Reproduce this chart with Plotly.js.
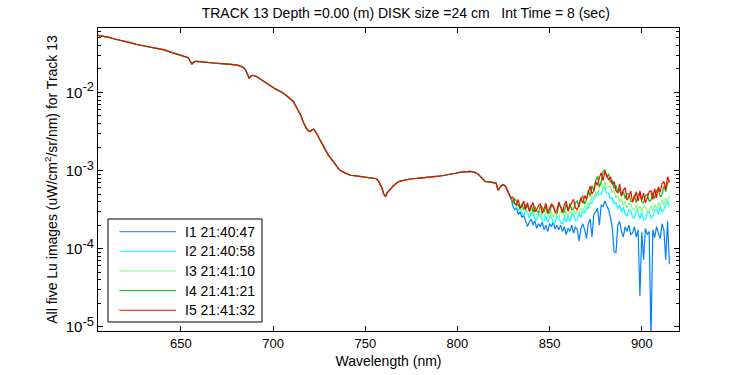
<!DOCTYPE html>
<html>
<head>
<meta charset="utf-8">
<script src="https://cdn.plot.ly/plotly-3.0.1.min.js"></script>
<style>html,body{margin:0;padding:0;background:#fff;}#chart{width:750px;height:375px;}</style>
</head>
<body>
<div id="chart"></div>
<script>
// ---- data ----
const seriesNames = ['I1 21:40:47', 'I2 21:40:58', 'I3 21:41:10', 'I4 21:41:21', 'I5 21:41:32'];
const seriesColors = ['#0080ff', '#00ffff', '#80ff80', '#00c000', '#ff0000'];

// smooth part of the spectrum, where all five images overlap
const baseWl = [605,608,611,614,617,620,623,626,629,632,635,638,641,644,647,650,652,654,655,656,657,658,660,663,666,669,672,675,678,680,682,684,685,686,687,688,689,691,693,695,697,699,701,703,705,707,709,711,712,713,714,715,716,717,718,719,720,721,722,723,724,725,726,728,730,732,734,736,738,740,742,744,747,750,753,756,757,758,759,760,761,762,763,764,765,767,769,772,775,778,781,784,787,790,793,796,799,802,805,807,809,811,813,815,817,819,821,822,823,824,825,826,827,828,829];
const baseLu = [0.0538,0.0525,0.0507,0.0484,0.0468,0.0452,0.0432,0.0412,0.0398,0.0389,0.0376,0.0363,0.0351,0.0331,0.0316,0.0299,0.0288,0.0279,0.0251,0.0232,0.0245,0.0251,0.0248,0.0243,0.0240,0.0237,0.0234,0.0232,0.0229,0.0226,0.0219,0.0207,0.0195,0.0170,0.0153,0.0162,0.0166,0.0160,0.0148,0.0138,0.0129,0.0120,0.0112,0.0107,0.0100,0.00923,0.00841,0.00767,0.00692,0.00631,0.00569,0.00513,0.00437,0.00380,0.00347,0.00324,0.00316,0.00331,0.00339,0.00316,0.00288,0.00257,0.00234,0.00191,0.00158,0.00135,0.00115,0.00102,0.000955,0.000902,0.000871,0.000861,0.000841,0.000822,0.000804,0.000785,0.000741,0.000676,0.000603,0.000501,0.000468,0.000525,0.000550,0.000589,0.000631,0.000692,0.000733,0.000759,0.000785,0.000794,0.000804,0.000822,0.000832,0.000851,0.000871,0.000891,0.000923,0.000955,0.000977,0.000977,0.000955,0.000912,0.000813,0.000724,0.000716,0.000708,0.000692,0.000562,0.000603,0.000646,0.000653,0.000631,0.000562,0.000490,0.000447];

// noisy near-infrared tail, one array per image
const tailWl = [830,831,832,833,834,835,836,837,838,839,840,841,842,843,844,845,846,847,848,849,850,851,852,853,854,855,856,857,858,859,860,861,862,863,864,865,866,867,868,869,870,871,872,873,874,875,876,877,878,879,880,881,882,883,884,885,886,887,888,889,890,891,892,893,894,895,896,897,898,899,900,901,902,903,904,905,906,907,908,909,910,911,912,913,914,915];
const tailI1 = [3.55e-4,3.16e-4,3.31e-4,2.75e-4,2.95e-4,2.51e-4,2.69e-4,2.29e-4,1.91e-4,2.19e-4,2.40e-4,2.00e-4,2.29e-4,1.82e-4,2.09e-4,1.91e-4,2.19e-4,1.74e-4,2.00e-4,1.66e-4,2.09e-4,1.91e-4,2.19e-4,1.78e-4,2.00e-4,1.74e-4,2.00e-4,1.66e-4,1.91e-4,1.51e-4,1.82e-4,1.66e-4,2.00e-4,1.58e-4,1.91e-4,1.74e-4,1.26e-4,1.82e-4,2.09e-4,1.74e-4,1.35e-4,2.09e-4,2.40e-4,1.41e-4,2.75e-4,2.95e-4,3.31e-4,2.00e-4,3.63e-4,3.47e-4,4.07e-4,3.55e-4,3.16e-4,2.51e-4,1.86e-4,0.91e-4,0.89e-4,2.00e-4,2.24e-4,1.66e-4,1.41e-4,1.91e-4,1.66e-4,2.00e-4,1.51e-4,1.58e-4,1.91e-4,1.41e-4,1.74e-4,0.245e-4,1.62e-4,0.72e-4,1.82e-4,1.51e-4,1.66e-4,0.07e-4,1.74e-4,1.38e-4,1.91e-4,1.58e-4,1.35e-4,2.09e-4,1.74e-4,0.72e-4,2.24e-4,0.63e-4];
const tailI2 = [3.89e-4,3.72e-4,3.39e-4,3.09e-4,3.39e-4,2.82e-4,2.63e-4,3.16e-4,2.95e-4,2.45e-4,2.88e-4,2.82e-4,2.40e-4,2.34e-4,2.75e-4,2.69e-4,2.29e-4,2.24e-4,2.63e-4,2.19e-4,2.57e-4,2.51e-4,2.14e-4,2.19e-4,2.57e-4,2.51e-4,2.14e-4,2.09e-4,2.57e-4,2.19e-4,2.63e-4,2.24e-4,2.69e-4,2.75e-4,2.29e-4,2.34e-4,2.82e-4,2.51e-4,3.02e-4,2.82e-4,3.39e-4,3.24e-4,3.98e-4,3.80e-4,4.37e-4,4.68e-4,5.25e-4,4.90e-4,5.01e-4,5.89e-4,6.03e-4,5.13e-4,5.13e-4,4.37e-4,4.47e-4,3.72e-4,3.98e-4,3.24e-4,3.63e-4,2.95e-4,3.39e-4,2.75e-4,2.63e-4,3.16e-4,3.09e-4,2.51e-4,2.45e-4,3.02e-4,2.95e-4,2.40e-4,2.88e-4,2.34e-4,2.40e-4,2.88e-4,2.95e-4,2.45e-4,2.57e-4,3.09e-4,3.24e-4,2.75e-4,3.47e-4,2.95e-4,3.16e-4,3.72e-4,3.98e-4,3.47e-4];
const tailI3 = [4.07e-4,3.89e-4,3.55e-4,3.63e-4,3.31e-4,3.09e-4,3.39e-4,3.24e-4,2.88e-4,2.82e-4,3.16e-4,3.09e-4,2.75e-4,2.69e-4,3.02e-4,2.95e-4,2.63e-4,2.57e-4,2.95e-4,2.75e-4,2.57e-4,2.95e-4,2.51e-4,2.88e-4,2.57e-4,2.57e-4,2.95e-4,2.88e-4,2.63e-4,3.02e-4,2.63e-4,3.02e-4,2.69e-4,3.09e-4,2.75e-4,3.16e-4,2.82e-4,3.31e-4,2.95e-4,3.55e-4,3.31e-4,3.98e-4,3.72e-4,4.68e-4,4.37e-4,5.37e-4,5.01e-4,6.17e-4,6.92e-4,5.62e-4,7.24e-4,6.03e-4,6.17e-4,6.31e-4,5.25e-4,5.50e-4,4.47e-4,4.79e-4,3.89e-4,4.37e-4,3.55e-4,4.07e-4,3.31e-4,3.80e-4,3.72e-4,3.16e-4,3.09e-4,3.63e-4,3.02e-4,3.55e-4,2.95e-4,3.47e-4,3.47e-4,2.95e-4,3.02e-4,3.55e-4,3.02e-4,3.72e-4,3.16e-4,3.89e-4,3.39e-4,4.17e-4,3.63e-4,4.47e-4,3.89e-4,4.79e-4];
const tailI4 = [3.89e-4,4.37e-4,4.07e-4,3.55e-4,3.31e-4,3.80e-4,3.16e-4,3.63e-4,3.55e-4,3.02e-4,3.63e-4,2.95e-4,3.47e-4,3.02e-4,2.88e-4,3.55e-4,3.39e-4,2.95e-4,3.47e-4,2.82e-4,2.88e-4,3.55e-4,3.39e-4,2.95e-4,2.82e-4,3.63e-4,3.47e-4,3.02e-4,2.95e-4,3.72e-4,3.09e-4,3.80e-4,3.16e-4,3.24e-4,3.89e-4,4.07e-4,3.39e-4,4.37e-4,4.79e-4,3.72e-4,4.17e-4,5.62e-4,4.68e-4,6.46e-4,5.50e-4,7.41e-4,8.51e-4,6.17e-4,7.24e-4,9.77e-4,10.2e-4,8.13e-4,9.12e-4,7.08e-4,7.59e-4,5.89e-4,6.46e-4,5.25e-4,5.75e-4,4.68e-4,5.37e-4,4.37e-4,5.13e-4,5.01e-4,4.07e-4,3.98e-4,4.90e-4,3.89e-4,5.01e-4,4.90e-4,3.98e-4,3.89e-4,4.79e-4,5.01e-4,4.07e-4,4.17e-4,5.25e-4,4.37e-4,5.50e-4,5.89e-4,4.57e-4,4.90e-4,6.31e-4,5.37e-4,6.92e-4,7.41e-4];
const tailI5 = [4.57e-4,3.80e-4,3.63e-4,4.27e-4,3.31e-4,3.47e-4,4.07e-4,3.16e-4,3.89e-4,3.02e-4,3.47e-4,3.89e-4,2.95e-4,3.16e-4,3.55e-4,3.72e-4,2.82e-4,3.24e-4,3.80e-4,2.88e-4,3.31e-4,3.72e-4,3.55e-4,2.95e-4,3.09e-4,3.98e-4,3.39e-4,2.88e-4,3.63e-4,4.07e-4,3.02e-4,3.47e-4,3.89e-4,4.27e-4,3.31e-4,3.16e-4,3.72e-4,4.47e-4,3.80e-4,4.79e-4,4.27e-4,5.25e-4,6.31e-4,5.01e-4,5.50e-4,7.24e-4,6.46e-4,8.13e-4,9.33e-4,7.41e-4,9.77e-4,8.71e-4,7.59e-4,8.32e-4,6.61e-4,7.24e-4,5.50e-4,5.13e-4,6.76e-4,4.79e-4,5.62e-4,6.03e-4,4.17e-4,4.57e-4,5.50e-4,3.98e-4,4.47e-4,5.37e-4,4.07e-4,5.50e-4,4.17e-4,5.13e-4,3.89e-4,4.47e-4,5.37e-4,5.50e-4,4.27e-4,5.89e-4,4.47e-4,6.17e-4,5.25e-4,6.76e-4,7.24e-4,5.75e-4,8.32e-4,7.08e-4];
const tails = [tailI1, tailI2, tailI3, tailI4, tailI5];

const xTickVals = [650, 700, 750, 800, 850, 900];
const yTickVals = [1e-5, 1e-4, 1e-3, 1e-2];
const yTickText = ['-5', '-4', '-3', '-2'].map(e => '10<sup><span style="font-size:13px">' + e + '</span></sup>');

// ---- build traces ----
const traces = seriesNames.map((name, i) => ({
  type: 'scatter', mode: 'lines', name: name, showlegend: false,
  x: baseWl.concat(tailWl),
  y: baseLu.concat(tails[i]),
  line: {color: seriesColors[i], width: 1.2}
}));

const minorY = [];
[1e-5, 1e-4, 1e-3, 1e-2].forEach(d => { for (let k = 2; k <= 9; k++) minorY.push(d * k); });

// ---- boxed legend in the lower left corner (paper coordinates) ----
const legBox = {x0: 0.0172, x1: 0.2823, y0: 0.0297, y1: 0.3696};
const legTop = 0.3277, legStep = 0.0648, legLineX0 = 0.0367, legLineX1 = 0.1343, legTextX = 0.1468;
const shapes = [{type: 'rect', xref: 'paper', yref: 'paper', x0: legBox.x0, x1: legBox.x1, y0: legBox.y0, y1: legBox.y1,
  line: {color: '#000', width: 1}, fillcolor: '#fff', layer: 'above'}];
const annotations = [];
seriesNames.forEach((name, i) => {
  const yy = legTop - i * legStep;
  shapes.push({type: 'line', xref: 'paper', yref: 'paper', x0: legLineX0, x1: legLineX1, y0: yy, y1: yy,
    line: {color: seriesColors[i], width: 1}, layer: 'above'});
  annotations.push({xref: 'paper', yref: 'paper', x: legTextX, y: yy, xanchor: 'left', yanchor: 'middle',
    text: name, showarrow: false, font: {size: 14, color: '#000'}});
});

const layout = {
  width: 750, height: 375,
  margin: {l: 98, r: 71, t: 28, b: 44},
  paper_bgcolor: '#ffffff', plot_bgcolor: '#ffffff',
  font: {family: 'Liberation Sans, Arial, Helvetica, sans-serif', size: 13, color: '#000000'},
  title: {
    text: 'TRACK 13 Depth =0.00 (m) DISK size =24 cm\u00a0\u00a0\u00a0Int Time = 8 (sec)',
    x: 0.541, xref: 'container', xanchor: 'center',
    y: 0.965, yref: 'container', yanchor: 'middle',
    font: {size: 14, color: '#000000'}
  },
  xaxis: {
    range: [605, 920.2], tickvals: xTickVals, ticks: 'inside', ticklen: 5, tickcolor: '#000',
    mirror: 'ticks', showline: true, linecolor: '#000', linewidth: 1,
    showgrid: false, zeroline: false, tickfont: {size: 13},
    title: {text: 'Wavelength (nm)', standoff: 6, font: {size: 14}}
  },
  yaxis: {
    type: 'log', range: [-5.055, -1.174], tickvals: yTickVals, ticktext: yTickText,
    ticks: 'inside', ticklen: 5, tickcolor: '#000',
    minor: {tickvals: minorY, ticks: 'inside', ticklen: 3, tickcolor: '#000', showgrid: false},
    mirror: 'ticks', showline: true, linecolor: '#000', linewidth: 1,
    showgrid: false, zeroline: false, tickfont: {size: 15},
    title: {text: 'All five Lu images (uW/cm<sup>2</sup>/sr/nm) for Track 13', standoff: 4, font: {size: 14}}
  },
  showlegend: false,
  shapes: shapes,
  annotations: annotations
};

Plotly.newPlot('chart', traces, layout, {displayModeBar: false, staticPlot: true});
</script>
</body>
</html>
